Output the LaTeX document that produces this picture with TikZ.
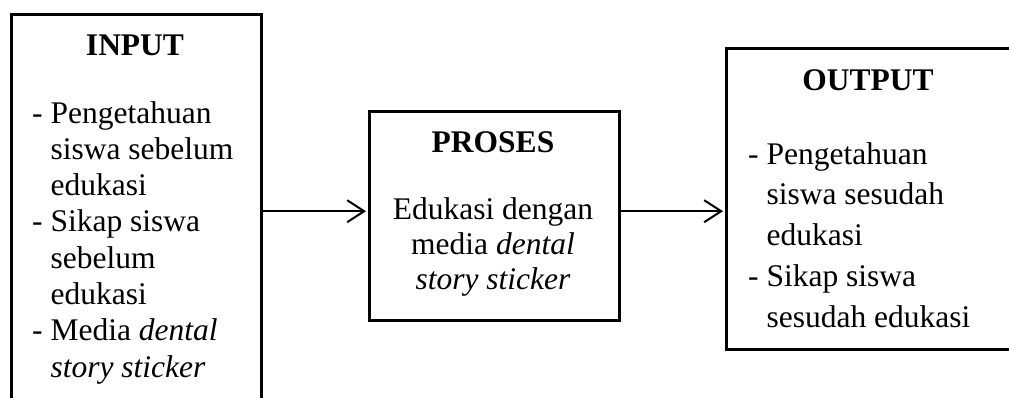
\documentclass[tikz,border=0pt]{standalone}
\usepackage{fontspec}
\setmainfont{Liberation Serif}
\usetikzlibrary{arrows.meta}
\begin{document}
\begin{tikzpicture}[x=1pt,y=-1pt,
  box/.style={draw, line width=3.4pt, inner sep=0pt, anchor=north west},
  txt/.style={anchor=base west, inner sep=0pt, font=\fontsize{31.5}{36}\selectfont},
  ctxt/.style={anchor=base, inner sep=0pt, font=\fontsize{31.5}{36}\selectfont},
  ttl/.style={anchor=base, inner sep=0pt, font=\fontsize{31.5}{36}\selectfont\bfseries},
  conn/.style={line width=2pt, shorten >=2pt, -{Straight Barb[length=17pt,width=22pt,line width=2pt]}}]
\useasboundingbox (0,0) rectangle (1009,397);
\clip (0,0) rectangle (1009,397);
% boxes
\node[box, minimum width=250pt, minimum height=417pt] (inbox) at (10,13) {};
\node[box, minimum width=250pt, minimum height=209pt] (proses) at (368,110) {};
\node[box, minimum width=287pt, minimum height=301pt] (outbox) at (725,47) {};
% INPUT text
\node[ttl] (inttl) at (135,55) {INPUT};
\node[txt] (in1) at (32,123) {- Pengetahuan};
\node[txt] (in2) at (32,159.3) {\phantom{- }siswa sebelum};
\node[txt] (in3) at (32,195.6) {\phantom{- }edukasi};
\node[txt] (in4) at (32,231.9) {- Sikap siswa};
\node[txt] (in5) at (32,268.2) {\phantom{- }sebelum};
\node[txt] (in6) at (32,304.5) {\phantom{- }edukasi};
\node[txt] (in7) at (32,340.8) {- Media \textit{dental}};
\node[txt] (in8) at (32,377) {\phantom{- }\textit{story sticker}};
% PROSES text
\node[ttl] (prttl) at (493,152) {PROSES};
\node[ctxt] (pr1) at (493,219) {Edukasi dengan};
\node[ctxt] (pr2) at (493,254) {media \textit{dental}};
\node[ctxt] (pr3) at (493,289) {\textit{story sticker}};
% OUTPUT text
\node[ttl] (outttl) at (868,90) {OUTPUT};
\node[txt] (out1) at (748,164) {- Pengetahuan};
\node[txt] (out2) at (748,204.75) {\phantom{- }siswa sesudah};
\node[txt] (out3) at (748,245.5) {\phantom{- }edukasi};
\node[txt] (out4) at (748,286.25) {- Sikap siswa};
\node[txt] (out5) at (748,327) {\phantom{- }sesudah edukasi};
% connectors
\coordinate (lvl) at ([yshift=5pt]proses.west);
\draw[conn] (inbox.east |- lvl) -- (lvl);
\draw[conn] (proses.east |- lvl) -- (outbox.west |- lvl);
\end{tikzpicture}
\end{document}
